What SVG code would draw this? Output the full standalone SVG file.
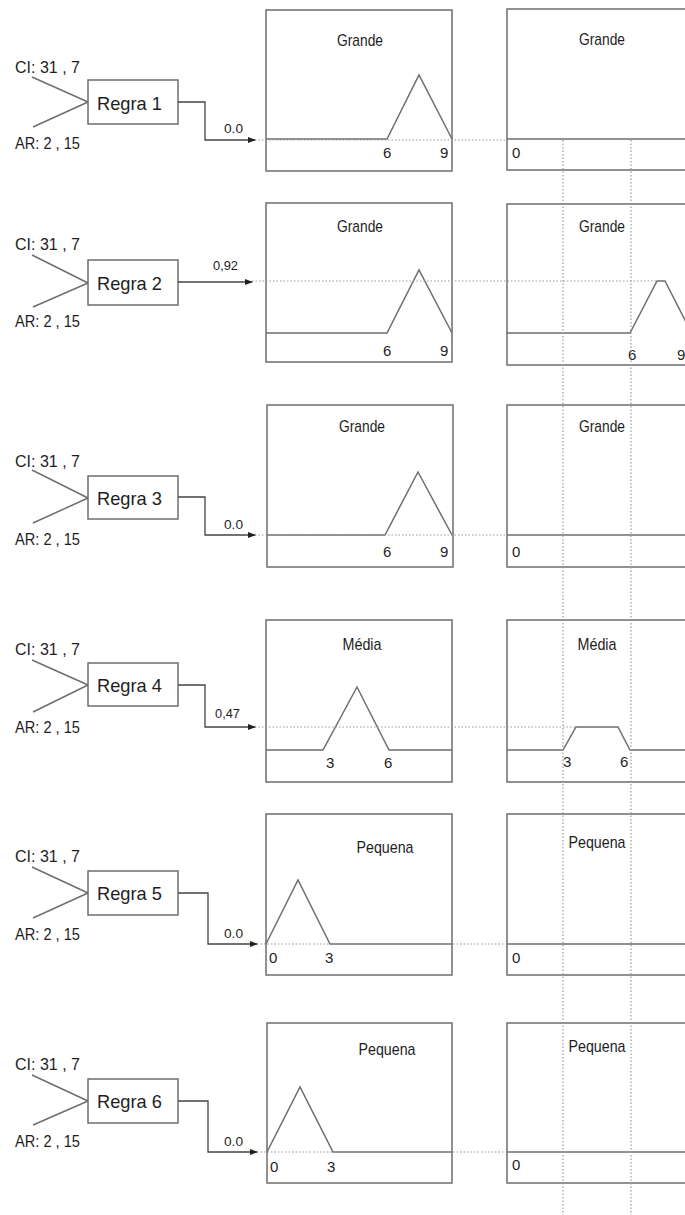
<svg xmlns="http://www.w3.org/2000/svg" width="685" height="1215" viewBox="0 0 685 1215">
<style>
text{font-family:"Liberation Sans",sans-serif;fill:#1e1e1e}
.in{font-size:16px}
.rl{font-size:19px}
.tt{font-size:17px;text-anchor:middle}
.nm{font-size:15px}
.vl{font-size:13px}
.box{fill:#fff;stroke:#6e6e6e;stroke-width:1.5}
.ln{fill:none;stroke:#6e6e6e;stroke-width:1.5}
.dot{fill:none;stroke:#9a9a9a;stroke-width:1.2;stroke-dasharray:1.5 2}
.ar{fill:none;stroke:#444;stroke-width:1.3;marker-end:url(#ah)}
</style>
<defs>
<marker id="ah" markerWidth="8" markerHeight="6" refX="7" refY="3" orient="auto" markerUnits="userSpaceOnUse">
<path d="M0,0 L8,3 L0,6 Z" fill="#222"/>
</marker>
</defs>
<rect width="685" height="1215" fill="#fff"/>

<!-- Row 1 -->
<g id="row1-inputs">
<text class="in" x="15" y="73" textLength="65" lengthAdjust="spacingAndGlyphs">CI: 31 , 7</text>
<text class="in" x="15" y="149" textLength="65" lengthAdjust="spacingAndGlyphs">AR: 2 , 15</text>
<path class="ln" d="M32,77 L88,102 M33,127 L88,102"/>
</g>
<g id="regra1"><rect class="box" x="88" y="80" width="90" height="44"/><text class="rl" x="97" y="110" textLength="65" lengthAdjust="spacingAndGlyphs">Regra 1</text></g>
<g id="mf1a">
<rect class="box" x="266" y="10" width="186" height="161"/>
<text class="tt" x="360" y="46" textLength="46" lengthAdjust="spacingAndGlyphs">Grande</text>
<path class="ln" d="M266,139 H387 L419,75 L452,139"/>
<text class="nm" x="383" y="158">6</text><text class="nm" x="440" y="158">9</text>
</g>
<g id="mf1b">
<rect class="box" x="507" y="9" width="200" height="161"/>
<text class="tt" x="602" y="45" textLength="46" lengthAdjust="spacingAndGlyphs">Grande</text>
<path class="ln" d="M507,139 H690"/>
<text class="nm" x="512" y="158">0</text>
</g>

<!-- Row 2 -->
<g id="row2-inputs">
<text class="in" x="15" y="250" textLength="65" lengthAdjust="spacingAndGlyphs">CI: 31 , 7</text>
<text class="in" x="15" y="327" textLength="65" lengthAdjust="spacingAndGlyphs">AR: 2 , 15</text>
<path class="ln" d="M32,255 L88,283 M33,307 L88,283"/>
</g>
<g id="regra2"><rect class="box" x="88" y="260" width="90" height="45"/><text class="rl" x="97" y="290" textLength="65" lengthAdjust="spacingAndGlyphs">Regra 2</text></g>
<g id="mf2a">
<rect class="box" x="266" y="203" width="186" height="159"/>
<text class="tt" x="360" y="232" textLength="46" lengthAdjust="spacingAndGlyphs">Grande</text>
<path class="ln" d="M266,333 H387 L419,270 L452,333"/>
<text class="nm" x="383" y="356">6</text><text class="nm" x="440" y="356">9</text>
</g>
<g id="mf2b">
<rect class="box" x="507" y="204" width="200" height="161"/>
<text class="tt" x="602" y="232" textLength="46" lengthAdjust="spacingAndGlyphs">Grande</text>
<path class="ln" d="M507,333 H630 L657,281 H665 L690,330"/>
<text class="nm" x="628" y="360">6</text><text class="nm" x="677" y="360">9</text>
</g>

<!-- Row 3 -->
<g id="row3-inputs">
<text class="in" x="15" y="467" textLength="65" lengthAdjust="spacingAndGlyphs">CI: 31 , 7</text>
<text class="in" x="15" y="545" textLength="65" lengthAdjust="spacingAndGlyphs">AR: 2 , 15</text>
<path class="ln" d="M32,470 L88,498 M33,523 L88,498"/>
</g>
<g id="regra3"><rect class="box" x="88" y="476" width="90" height="43"/><text class="rl" x="97" y="505" textLength="65" lengthAdjust="spacingAndGlyphs">Regra 3</text></g>
<g id="mf3a">
<rect class="box" x="267" y="405" width="186" height="162"/>
<text class="tt" x="362" y="432" textLength="46" lengthAdjust="spacingAndGlyphs">Grande</text>
<path class="ln" d="M267,535 H385 L418,472 L452,535"/>
<text class="nm" x="383" y="557">6</text><text class="nm" x="440" y="557">9</text>
</g>
<g id="mf3b">
<rect class="box" x="507" y="405" width="200" height="162"/>
<text class="tt" x="602" y="432" textLength="46" lengthAdjust="spacingAndGlyphs">Grande</text>
<path class="ln" d="M507,535 H690"/>
<text class="nm" x="512" y="557">0</text>
</g>

<!-- Row 4 -->
<g id="row4-inputs">
<text class="in" x="15" y="655" textLength="65" lengthAdjust="spacingAndGlyphs">CI: 31 , 7</text>
<text class="in" x="15" y="733" textLength="65" lengthAdjust="spacingAndGlyphs">AR: 2 , 15</text>
<path class="ln" d="M32,660 L88,685 M33,712 L88,685"/>
</g>
<g id="regra4"><rect class="box" x="88" y="663" width="90" height="43"/><text class="rl" x="97" y="692" textLength="65" lengthAdjust="spacingAndGlyphs">Regra 4</text></g>
<g id="mf4a">
<rect class="box" x="266" y="620" width="186" height="162"/>
<text class="tt" x="362" y="650" textLength="39" lengthAdjust="spacingAndGlyphs">Média</text>
<path class="ln" d="M266,750 H323 L357,687 L389,750 H452"/>
<text class="nm" x="326" y="768">3</text><text class="nm" x="384" y="768">6</text>
</g>
<g id="mf4b">
<rect class="box" x="507" y="620" width="200" height="162"/>
<text class="tt" x="597" y="650" textLength="39" lengthAdjust="spacingAndGlyphs">Média</text>
<path class="ln" d="M507,750 H563 L576,727 H618 L630,750 H690"/>
<text class="nm" x="563" y="767">3</text><text class="nm" x="620" y="767">6</text>
</g>

<!-- Row 5 -->
<g id="row5-inputs">
<text class="in" x="15" y="862" textLength="65" lengthAdjust="spacingAndGlyphs">CI: 31 , 7</text>
<text class="in" x="15" y="940" textLength="65" lengthAdjust="spacingAndGlyphs">AR: 2 , 15</text>
<path class="ln" d="M32,867 L88,893 M33,918 L88,893"/>
</g>
<g id="regra5"><rect class="box" x="88" y="871" width="90" height="44"/><text class="rl" x="97" y="900" textLength="65" lengthAdjust="spacingAndGlyphs">Regra 5</text></g>
<g id="mf5a">
<rect class="box" x="266" y="814" width="186" height="161"/>
<text class="tt" x="385" y="853" textLength="57" lengthAdjust="spacingAndGlyphs">Pequena</text>
<path class="ln" d="M266,944 L298,880 L330,944 H452"/>
<text class="nm" x="269" y="963">0</text><text class="nm" x="325" y="963">3</text>
</g>
<g id="mf5b">
<rect class="box" x="507" y="814" width="200" height="161"/>
<text class="tt" x="597" y="848" textLength="57" lengthAdjust="spacingAndGlyphs">Pequena</text>
<path class="ln" d="M507,944 H690"/>
<text class="nm" x="512" y="963">0</text>
</g>

<!-- Row 6 -->
<g id="row6-inputs">
<text class="in" x="15" y="1070" textLength="65" lengthAdjust="spacingAndGlyphs">CI: 31 , 7</text>
<text class="in" x="15" y="1147" textLength="65" lengthAdjust="spacingAndGlyphs">AR: 2 , 15</text>
<path class="ln" d="M32,1075 L88,1101 M33,1125 L88,1101"/>
</g>
<g id="regra6"><rect class="box" x="88" y="1079" width="90" height="44"/><text class="rl" x="97" y="1108" textLength="65" lengthAdjust="spacingAndGlyphs">Regra 6</text></g>
<g id="mf6a">
<rect class="box" x="267" y="1023" width="185" height="160"/>
<text class="tt" x="387" y="1055" textLength="57" lengthAdjust="spacingAndGlyphs">Pequena</text>
<path class="ln" d="M267,1152 L300,1087 L333,1152 H452"/>
<text class="nm" x="270" y="1172">0</text><text class="nm" x="327" y="1172">3</text>
</g>
<g id="mf6b">
<rect class="box" x="507" y="1023" width="200" height="160"/>
<text class="tt" x="597" y="1052" textLength="57" lengthAdjust="spacingAndGlyphs">Pequena</text>
<path class="ln" d="M507,1152 H690"/>
<text class="nm" x="512" y="1170">0</text>
</g>

<!-- Connectors -->
<g id="connectors">
<path class="dot" d="M255,140 H507"/>
<path class="dot" d="M252,281 H657"/>
<path class="dot" d="M255,535 H507"/>
<path class="dot" d="M255,727 H576"/>
<path class="dot" d="M257,944 H507"/>
<path class="dot" d="M257,1152 H507"/>
<path class="dot" d="M563,140 V1215 M631,140 V1215"/>
<path class="ar" d="M178,102 H205 V140 H255"/>
<path class="ar" d="M178,282 H252"/>
<path class="ar" d="M178,497 H205 V535 H255"/>
<path class="ar" d="M178,685 H205 V727 H255"/>
<path class="ar" d="M178,893 H208 V944 H257"/>
<path class="ar" d="M178,1101 H208 V1152 H257"/>
<text class="vl" x="224" y="133" textLength="19" lengthAdjust="spacingAndGlyphs">0.0</text>
<text class="vl" x="213" y="270" textLength="25" lengthAdjust="spacingAndGlyphs">0,92</text>
<text class="vl" x="224" y="529" textLength="19" lengthAdjust="spacingAndGlyphs">0.0</text>
<text class="vl" x="215" y="718" textLength="25" lengthAdjust="spacingAndGlyphs">0,47</text>
<text class="vl" x="224" y="938" textLength="19" lengthAdjust="spacingAndGlyphs">0.0</text>
<text class="vl" x="224" y="1146" textLength="19" lengthAdjust="spacingAndGlyphs">0.0</text>
</g>
</svg>
